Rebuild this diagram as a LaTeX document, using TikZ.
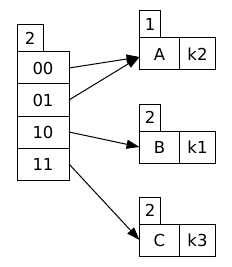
\documentclass[tikz,border=0pt]{standalone}
\usepackage{fontspec}
\setmainfont{DejaVu Sans}
\usetikzlibrary{positioning,arrows.meta}
\begin{document}
\begin{tikzpicture}[
x=1pt, y=-1pt,
font=\fontsize{16.5}{18}\selectfont,
>={Triangle[length=13pt,width=9pt]},
cell/.style={
rectangle,
draw=black,
line width=1pt,
outer sep=0pt,
inner sep=0pt,
minimum height=32pt,
anchor=north west
},
dircell/.style={
cell,
minimum width=52pt
},
depth/.style={
cell,
minimum height=27pt,
minimum width=26pt,
anchor=south west
},
bucketdepth/.style={
depth,
minimum width=21pt
},
keycell/.style={
cell,
minimum width=40pt
},
valcell/.style={
cell,
minimum width=36pt
},
arrow/.style={
->,
line width=1pt,
draw=black
}
]
\useasboundingbox (0,0) rectangle (232,267);

% directory
\node[depth] (dirdepth) at (17,52) {2};
\node[dircell] (d00) at (17,52) {00};
\node[dircell, below=0pt of d00] (d01) {01};
\node[dircell, below=0pt of d01] (d10) {10};
\node[dircell, below=0pt of d10] (d11) {11};

% buckets
\node[bucketdepth] (depthA) at (139.5,38) {1};
\node[keycell] (A) at (139.5,38) {A};
\node[valcell, right=0pt of A] (kA) {k2};

\node[bucketdepth] (depthB) at (139.5,131) {2};
\node[keycell] (B) at (139.5,131) {B};
\node[valcell, right=0pt of B] (kB) {k1};

\node[bucketdepth] (depthC) at (139.5,224) {2};
\node[keycell] (C) at (139.5,224) {C};
\node[valcell, right=0pt of C] (kC) {k3};

\draw[arrow] (d00.east) -- ([yshift=-3pt]A.west);
\draw[arrow] (d01.east) -- ([yshift=-3pt]A.west);
\draw[arrow] (d10.east) -- (B.west);
\draw[arrow] (d11.east) -- (C.west);

\end{tikzpicture}
\end{document}
